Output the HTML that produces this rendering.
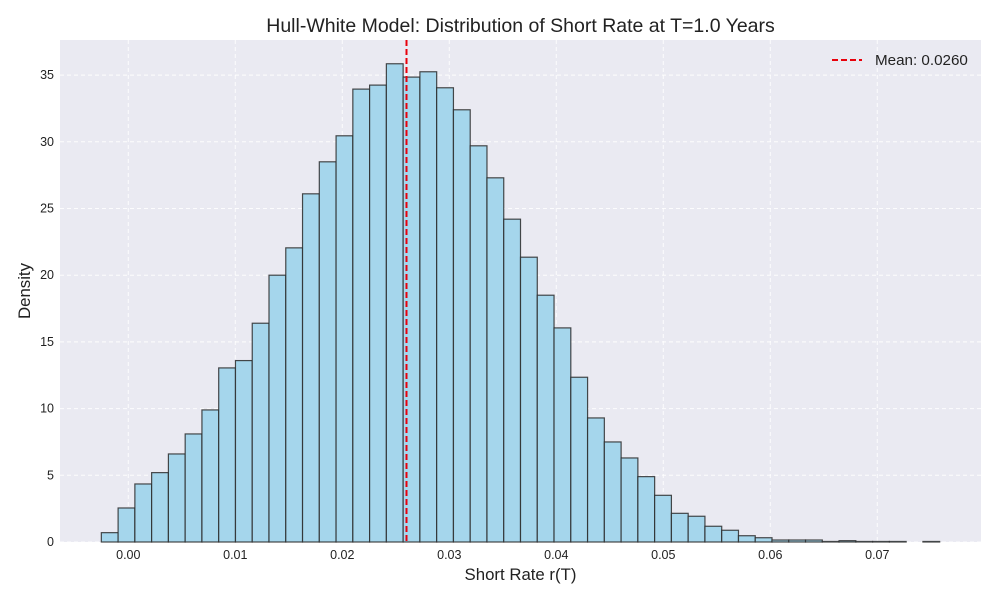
<!DOCTYPE html>
<html><head><meta charset="utf-8"><style>
body{margin:0;background:#fff;font-family:"Liberation Sans","DejaVu Sans",sans-serif;}
svg{display:block}
</style></head><body>
<svg id="chart" width="1000" height="600"></svg>
<script>
const binStart = -0.00252;
const binWidth = 0.001567;
const densities = [0.7,2.55,4.35,5.2,6.6,8.1,9.9,13.05,13.6,16.4,20.0,22.05,26.1,28.5,30.45,33.95,34.25,35.85,34.85,35.25,34.05,32.4,29.7,27.3,24.2,21.35,18.5,16.05,12.35,9.3,7.5,6.3,4.9,3.5,2.15,1.93,1.18,0.88,0.47,0.32,0.15,0.15,0.15,0.04,0.1,0.04,0.04,0.04,0,0.04];
const xTicks = [0,0.01,0.02,0.03,0.04,0.05,0.06,0.07];
const yTicks = [0,5,10,15,20,25,30,35];
const meanValue = 0.0260;

const NS="http://www.w3.org/2000/svg";
const svg=document.getElementById('chart');
const L=60,R=981,T=40,B=542;
const sx=v=>128.3+v*10700;
const sy=v=>542-v*13.34;
function mk(tag,attrs,parent){const e=document.createElementNS(NS,tag);for(const k in attrs)e.setAttribute(k,attrs[k]);(parent||svg).appendChild(e);return e;}

const bg=mk('rect',{x:L,y:T,width:R-L,height:B-T,fill:'#eaeaf2'});



xTicks.forEach(t=>{
  const g=mk('line',{x1:sx(t),x2:sx(t),y1:T,y2:B,stroke:'#fff','stroke-width':1,'stroke-dasharray':'4,3',opacity:0.9});
  
  
  const tx=mk('text',{x:sx(t),y:B+17,'text-anchor':'middle','font-size':12.5,fill:'#222'});
  tx.textContent=t.toFixed(2);
  
  
});
yTicks.forEach(t=>{
  const g=mk('line',{x1:L,x2:R,y1:sy(t),y2:sy(t),stroke:'#fff','stroke-width':1,'stroke-dasharray':'4,3',opacity:0.9});
  
  
  const tx=mk('text',{x:L-6,y:sy(t)+4,'text-anchor':'end','font-size':12.5,fill:'#222'});
  tx.textContent=String(t);
  
  
});

densities.forEach((d,i)=>{
  if(d<=0)return;
  const x0=sx(binStart+i*binWidth),x1=sx(binStart+(i+1)*binWidth);
  const r=mk('rect',{x:x0,y:sy(d),width:x1-x0,height:sy(0)-sy(d),fill:'#a5d6ec',stroke:'#2a2a2a','stroke-width':1.2,'stroke-opacity':0.85});
  
  
});

const ml=mk('line',{x1:sx(meanValue),x2:sx(meanValue),y1:T,y2:B,stroke:'#e8000b','stroke-width':2,'stroke-dasharray':'6,3'});



const title=mk('text',{x:(L+R)/2,y:32,'text-anchor':'middle','font-size':19.5,fill:'#222'});
title.textContent='Hull-White Model: Distribution of Short Rate at T=1.0 Years';



const xl=mk('text',{x:(L+R)/2,y:580,'text-anchor':'middle','font-size':16.8,fill:'#222'});
xl.textContent='Short Rate r(T)';



const yl=mk('text',{x:0,y:0,'text-anchor':'middle','font-size':16.8,fill:'#222',transform:'translate(30,291) rotate(-90)'});
yl.textContent='Density';



const lg=mk('g',{});


const ll=mk('line',{x1:832,x2:862,y1:60,y2:60,stroke:'#e8000b','stroke-width':2,'stroke-dasharray':'6,3'},lg);


const lt=mk('text',{x:875,y:65,'font-size':15.2,fill:'#222'},lg);
lt.textContent='Mean: 0.0260';


</script>
</body></html>
